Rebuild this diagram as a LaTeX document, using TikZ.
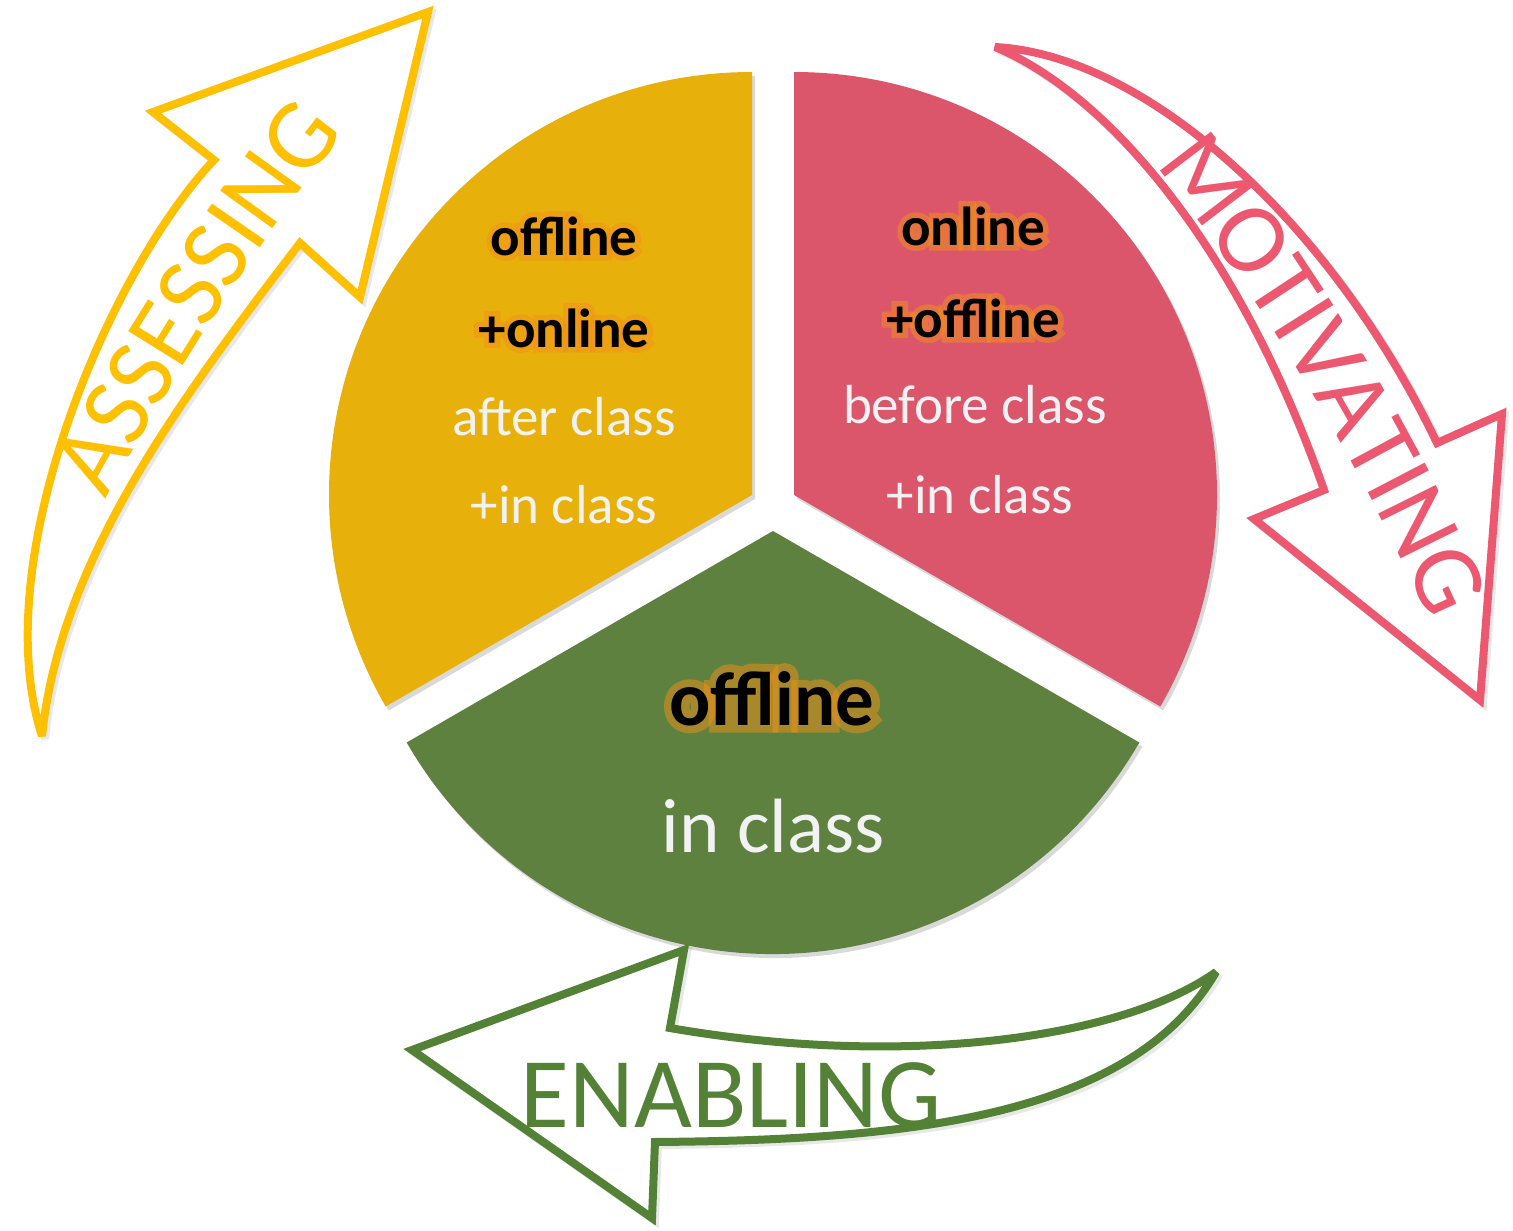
\documentclass[tikz,border=0pt]{standalone}
\usepackage{fontspec}
\setmainfont{Carlito}
\newfontfamily\glowbold[FakeBold=20]{Carlito Bold}
\usetikzlibrary{decorations.text}
\definecolor{ysec}{HTML}{E8B00A}
\definecolor{psec}{HTML}{DC566B}
\definecolor{gsec}{HTML}{5E8140}
\definecolor{yarr}{HTML}{FFC000}
\definecolor{parr}{HTML}{EC5870}
\definecolor{garr}{HTML}{538135}
\definecolor{lighttxt}{HTML}{F2F2F2}
\definecolor{glowc}{HTML}{F0921A}
\newcommand\fsmall{\fontsize{55}{60}\selectfont}
\newcommand\fbig{\fontsize{77}{84}\selectfont}
\newcommand\farrow{\fontsize{100}{110}\selectfont}
\newcommand\glowlabel[4]{%
  \node[glowcopy, font=#3\glowbold] (#1-glow) at (#2) {#4};
  \node[boldtext, font=#3\bfseries] (#1) at (#2) {#4};
}
\begin{document}
\begin{tikzpicture}[x=1pt,y=-1pt,
  sector/.style={fill=#1, draw=none},
  secshadow/.style={fill=black, opacity=0.15, draw=none},
  arrowline/.style={draw=#1, line width=8pt, line join=miter, miter limit=4, fill=white},
  arrowshadow/.style={draw=black!60, opacity=0.15, line width=8pt, line join=miter, miter limit=4},
  lighttext/.style={text=lighttxt, anchor=base, inner sep=0pt},
  boldtext/.style={text=black, anchor=base, inner sep=0pt},
  glowcopy/.style={text=glowc, opacity=0.5, anchor=base, inner sep=0pt},
]
\useasboundingbox (0,0) rectangle (1513,1231);
\fill[white] (0,0) rectangle (1513,1231);

% ---- sector shadows
\fill[secshadow] (755,499) -- ++(270:423) arc[start angle=270, end angle=150, radius=423] -- cycle;
\fill[secshadow] (797,499) -- ++(270:423) arc[start angle=270, end angle=390, radius=423] -- cycle;
\fill[secshadow] (776,535) -- ++(30:423) arc[start angle=30, end angle=150, radius=423] -- cycle;

% ---- sectors
\fill[sector=ysec] (752,495) coordinate (vy) -- ++(270:423) arc[start angle=270, end angle=150, radius=423] -- cycle;
\fill[sector=psec] (794,495) coordinate (vp) -- ++(270:423) arc[start angle=270, end angle=390, radius=423] -- cycle;
\fill[sector=gsec] (773,531) coordinate (vg) -- ++(30:423) arc[start angle=30, end angle=150, radius=423] -- cycle;

% ---- yellow arrow (ASSESSING)
\draw[arrowshadow, shift={(3,3)}] (428,12) -- (153,112) -- (214,160) .. controls (110,270) and (-15,560) .. (42,736) .. controls (60,560) and (180,400) .. (300,243) -- (360,297) -- cycle;
\draw[arrowline=yarr] (428,12) -- (153,112) -- (214,160) .. controls (110,270) and (-15,560) .. (42,736) .. controls (60,560) and (180,400) .. (300,243) -- (360,297) -- cycle;
\path[decorate, decoration={text along path, text align=center, raise=-33pt, text={|\farrow\color{yarr}|ASSESSING}}] (68,500) .. controls (125,395) and (215,240) .. (330,98);

% ---- pink arrow (MOTIVATING)
\draw[arrowshadow, shift={(3,3)}] (995,47) .. controls (1145,55) and (1330,220) .. (1437,443) -- (1502,414) -- (1480,700) -- (1254,519) -- (1324,490) .. controls (1240,250) and (1110,95) .. (995,47) -- cycle;
\draw[arrowline=parr] (995,47) .. controls (1145,55) and (1330,220) .. (1437,443) -- (1502,414) -- (1480,700) -- (1254,519) -- (1324,490) .. controls (1240,250) and (1110,95) .. (995,47) -- cycle;
\path[decorate, decoration={text along path, text align=center, raise=-33pt, text={|\farrow\color{parr}|MOTIVATING}}] (1163,122) .. controls (1262,240) and (1380,420) .. (1472,635);

% ---- green arrow (ENABLING)
\draw[arrowshadow, shift={(3,3)}] (412,1050) -- (684,950) -- (670,1028) .. controls (900,1068) and (1120,1040) .. (1216,972) .. controls (1130,1120) and (900,1140) .. (655,1142) -- (652,1218) -- cycle;
\draw[arrowline=garr] (412,1050) -- (684,950) -- (670,1028) .. controls (900,1068) and (1120,1040) .. (1216,972) .. controls (1130,1120) and (900,1140) .. (655,1142) -- (652,1218) -- cycle;
\node[anchor=base, inner sep=0pt, text=garr, font=\farrow] (enabling) at (731,1127) {ENABLING};

% ---- sector texts
\glowlabel{y1}{564,255}{\fsmall}{offline}
\glowlabel{y2}{564,347}{\fsmall}{+online}
\node[lighttext, font=\fsmall] (y3) at (564,435) {after class};
\node[lighttext, font=\fsmall] (y4) at (564,523) {+in class};

\glowlabel{p1}{973,245}{\fsmall}{online}
\glowlabel{p2}{973,337}{\fsmall}{+offline}
\node[lighttext, font=\fsmall] (p3) at (975,423) {before class};
\node[lighttext, font=\fsmall] (p4) at (980,513) {+in class};

\glowlabel{g1}{772,725}{\fbig}{offline}
\node[lighttext, font=\fbig] (g2) at (773,852) {in class};
\end{tikzpicture}
\end{document}
